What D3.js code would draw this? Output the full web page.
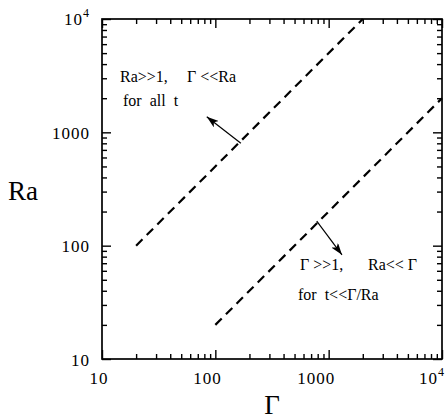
<!DOCTYPE html>
<html>
<head>
<meta charset="utf-8">
<script src="https://cdn.jsdelivr.net/npm/d3@7"></script>
<style>
body { margin: 0; background: #fff; }
text { font-family: "Liberation Serif", "DejaVu Serif", serif; fill: #000; }
</style>
</head>
<body>
<div class="chart"></div>
<script>
// regime boundaries, Ra = 5*Gamma and Ra = Gamma/5
var upperGamma = [20, 2000];
var upperRa = [100, 10000];
var lowerGamma = [100, 10000];
var lowerRa = [20, 2000];

var xTicks = [10, 100, 1000, 10000];
var yTicks = [10, 100, 1000, 10000];

// arrows: [tail, tip] in (Gamma, Ra)
var arrowUp = [[168, 800], [84, 1370]];
var arrowDown = [[785, 165], [1310, 83]];

var width = 445, height = 420;
var padL = 102, padR = 442, padT = 19, padB = 359;

var svg = d3.select(".chart").append("svg")
    .attr("width", width).attr("height", height);

var x = d3.scaleLog().domain([10, 10000]).range([padL, padR]);
var y = d3.scaleLog().domain([10, 10000]).range([padB, padT]);

// minor ticks 2..9 per decade
var minor = [];
[10, 100, 1000].forEach(function(d) {
    for (var k = 2; k <= 9; k++) minor.push(d * k);
});

function fmt(d) { return d == 10000 ? "" : d3.format("d")(d); }

function drawAxis(axisFn, scale, tr, ticks, labelled) {
    var gMin = svg.append("g").attr("transform", tr)
        .call(axisFn(scale).tickValues(minor).tickSize(-5).tickFormat(""));
    gMin.select(".domain").remove();
    var gMaj = svg.append("g").attr("transform", tr)
        .call(axisFn(scale).tickValues(ticks).tickSize(-9).tickFormat(labelled ? fmt : ""));
    gMaj.select(".domain").remove();
    svg.selectAll(".tick line").attr("stroke", "#000").attr("stroke-width", 1.4);
    return gMaj;
}

var gx = drawAxis(d3.axisBottom, x, "translate(0," + padB + ")", xTicks, true);
drawAxis(d3.axisTop, x, "translate(0," + padT + ")", xTicks, false);
var gy = drawAxis(d3.axisLeft, y, "translate(" + padL + ",0)", yTicks, true);
drawAxis(d3.axisRight, y, "translate(" + padR + ",0)", yTicks, false);

gx.selectAll(".tick text")
    .attr("font-size", 17).attr("letter-spacing", 1)
    .attr("text-anchor", "end").attr("dx", 6).attr("y", 25).attr("dy", 0);
gy.selectAll(".tick text")
    .attr("font-size", 17).attr("letter-spacing", 1)
    .attr("x", -12).attr("dy", 6);

// 10^4 labels
function pow4(px, py) {
    var t = svg.append("text").attr("x", px).attr("y", py)
        .attr("font-size", 17).attr("letter-spacing", 1).attr("text-anchor", "end");
    t.append("tspan").text("10");
    t.append("tspan").attr("font-size", 12).attr("dy", -8).text("4");
}
pow4(x(10000) + 3, padB + 25);
pow4(padL - 12, y(10000) + 6);

// frame
svg.append("rect")
    .attr("x", padL).attr("y", padT)
    .attr("width", padR - padL).attr("height", padB - padT)
    .attr("fill", "none").attr("stroke", "#000").attr("stroke-width", 1.7);

// dashed boundaries
var line = d3.line().x(function(d) { return x(d[0]); }).y(function(d) { return y(d[1]); });
[[upperGamma, upperRa], [lowerGamma, lowerRa]].forEach(function(s) {
    svg.append("path")
        .attr("d", line(d3.zip(s[0], s[1])))
        .attr("fill", "none").attr("stroke", "#000")
        .attr("stroke-width", 2.2).attr("stroke-dasharray", "9,6");
});

// arrows
svg.append("defs").append("marker")
    .attr("id", "head").attr("viewBox", "0 0 12 8")
    .attr("refX", 12).attr("refY", 4)
    .attr("markerWidth", 12).attr("markerHeight", 8)
    .attr("markerUnits", "userSpaceOnUse").attr("orient", "auto")
    .append("path").attr("d", "M0,0L12,4L0,8L3,4Z").attr("fill", "#000");

[arrowUp, arrowDown].forEach(function(a) {
    svg.append("line")
        .attr("x1", x(a[0][0])).attr("y1", y(a[0][1]))
        .attr("x2", x(a[1][0])).attr("y2", y(a[1][1]))
        .attr("stroke", "#000").attr("stroke-width", 1.2)
        .attr("marker-end", "url(#head)");
});

// annotations
function label(txt, px, py) {
    svg.append("text").attr("x", px).attr("y", py)
        .attr("font-size", 16).attr("xml:space", "preserve").text(txt);
}
label("Ra>>1,", 120, 82);
label("\u0393 <<Ra", 187, 82);
label("for  all  t", 123, 106);
label("\u0393 >>1,", 300, 270);
label("Ra<< \u0393", 368, 270);
label("for  t<<\u0393/Ra", 298, 300);

// axis titles
svg.append("text").attr("x", 8).attr("y", 200).attr("font-size", 27).text("Ra");
svg.append("text").attr("x", 272).attr("y", 414).attr("font-size", 27)
    .attr("text-anchor", "middle").text("\u0393");
</script>
</body>
</html>
